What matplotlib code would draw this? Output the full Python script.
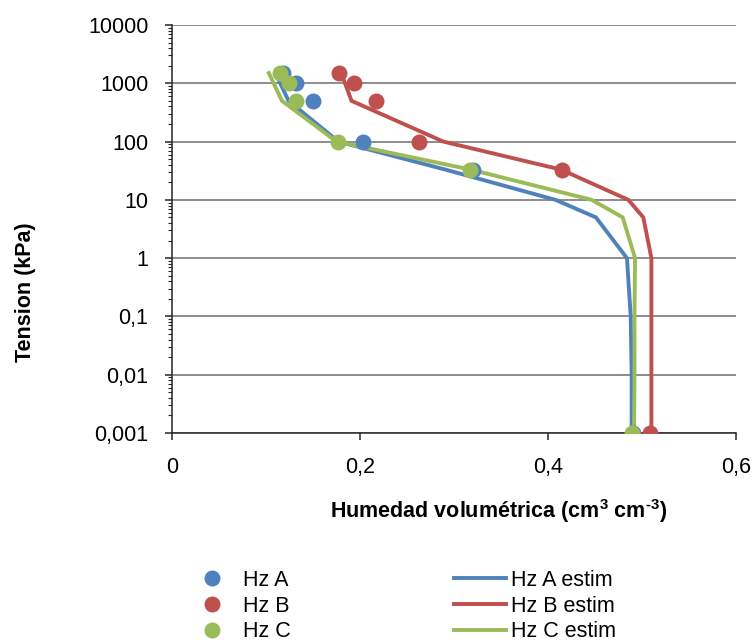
import numpy as np
import matplotlib
matplotlib.use('Agg')
import matplotlib.pyplot as plt
from matplotlib.ticker import FixedLocator, FixedFormatter, LogLocator, NullFormatter

plt.rcParams['font.family'] = ['Liberation Sans', 'DejaVu Sans']
plt.rcParams['mathtext.fontset'] = 'custom'
plt.rcParams['mathtext.rm'] = 'Liberation Sans:bold'
plt.rcParams['mathtext.bf'] = 'Liberation Sans:bold'

# measured points
tension_obs = [1500, 1000, 500, 100, 33, 0.001]
hz_a = [0.118, 0.132, 0.150, 0.2035, 0.320, 0.490]
hz_b = [0.178, 0.194, 0.217, 0.263, 0.4145, 0.509]
hz_c = [0.115, 0.124, 0.132, 0.177, 0.317, 0.4895]

# estimated curves
tension_est = [1500, 500, 100, 33, 10, 5, 1, 0.1, 0.01, 0.001]
hz_a_est = [0.110, 0.124, 0.177, 0.291, 0.408, 0.451, 0.484, 0.488, 0.489, 0.489]
hz_b_est = [0.180, 0.191, 0.2886, 0.414, 0.4855, 0.5014, 0.510, 0.510, 0.510, 0.510]
hz_c_est = [0.103, 0.117, 0.175, 0.318, 0.4465, 0.4795, 0.4926, 0.492, 0.492, 0.4915]

names = ['Hz A', 'Hz B', 'Hz C']
colors = ['#4F81BD', '#C0504D', '#9BBB59']

yticks = [0.001, 0.01, 0.1, 1, 10, 100, 1000, 10000]
ytick_labels = ['0,001', '0,01', '0,1', '1', '10', '100', '1000', '10000']
xticks = [0, 0.2, 0.4, 0.6]
xtick_labels = ['0', '0,2', '0,4', '0,6']

fs = 15.5
axcol = '#262626'

fig = plt.figure(figsize=(7.54, 6.42), dpi=100)
ax = fig.add_axes([172/754, 1-433/642, (736-172)/754, (433-25)/642])

obs_handles = []
for vals, name, c in zip([hz_a, hz_b, hz_c], names, colors):
    h, = ax.plot(vals, tension_obs, ls='none', marker='o', ms=11.5, color=c,
                 markeredgewidth=0, label=name, zorder=4)
    obs_handles.append(h)

est_handles = []
for vals, name, c in zip([hz_a_est, hz_b_est, hz_c_est], names, colors):
    h, = ax.plot(vals, tension_est, color=c, lw=2.8, label=name + ' estim',
                 zorder=3, solid_joinstyle='miter')
    est_handles.append(h)

ax.set_yscale('log')
ax.set_ylim(0.001, 10000)
ax.set_xlim(0, 0.6)
ax.yaxis.set_major_locator(FixedLocator(yticks))
ax.yaxis.set_major_formatter(FixedFormatter(ytick_labels))
ax.yaxis.set_minor_locator(LogLocator(base=10, subs=np.arange(2, 10)))
ax.yaxis.set_minor_formatter(NullFormatter())
ax.set_xticks(xticks)
ax.set_xticklabels(xtick_labels)

ax.grid(axis='y', which='major', color='#7a7a7a', lw=1.2, zorder=0)
for s in ['top', 'right']:
    ax.spines[s].set_visible(False)
for s in ['left', 'bottom']:
    ax.spines[s].set_color(axcol)
    ax.spines[s].set_linewidth(1.1)
ax.tick_params(axis='both', which='major', labelsize=fs, length=5, width=1.1,
               color=axcol, pad=12, direction='out')
ax.tick_params(axis='y', which='minor', length=3, width=0.8, color=axcol,
               direction='out')

fig.text(25/754, 1-292/642, 'Tension (kPa)', rotation=90, ha='center',
         va='center', fontsize=fs, fontweight='bold')
fig.text(499/754, 1-511/642, r'Humedad volumétrica (cm$^{3}$ cm$^{\text{-}3}$)',
         ha='center', va='center', fontsize=fs, fontweight='bold')

fig.legend(obs_handles + est_handles,
           [h.get_label() for h in obs_handles + est_handles],
           ncol=2, frameon=False, fontsize=fs, loc='upper left',
           bbox_to_anchor=(186/754, 1-570/642), borderpad=0, borderaxespad=0,
           handlelength=2.4, handletextpad=0.25, columnspacing=7.6,
           labelspacing=0.22, numpoints=1)

fig.savefig('out.png', dpi=100)
